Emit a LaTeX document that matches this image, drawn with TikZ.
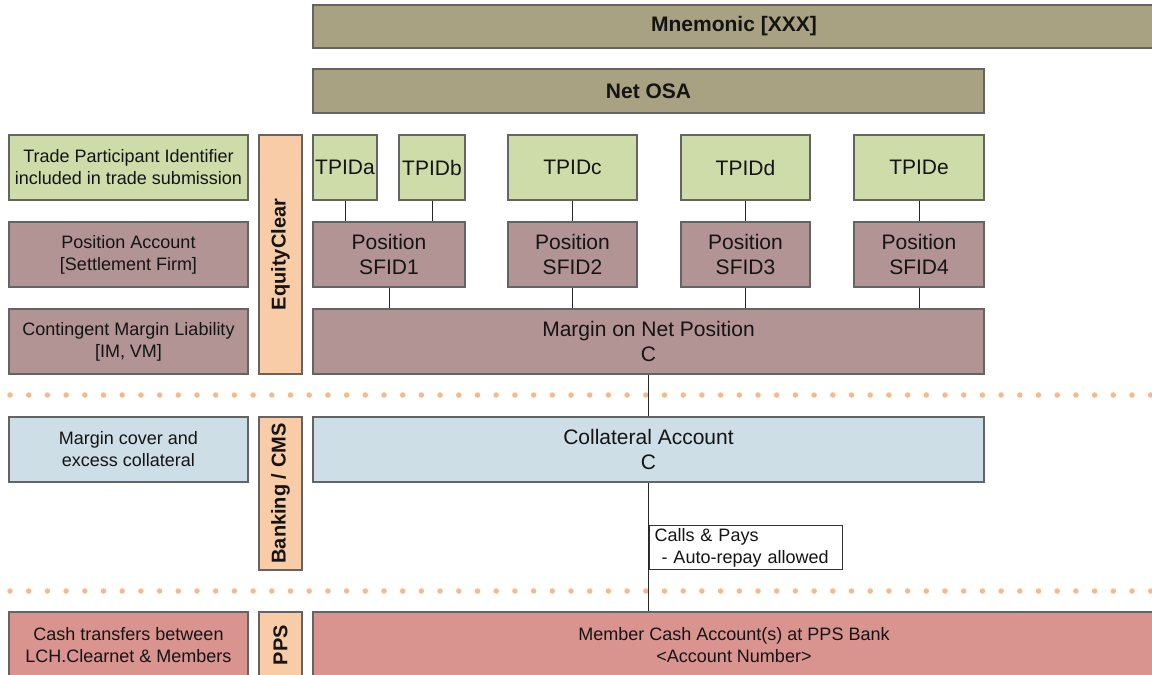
\documentclass[tikz,border=0pt]{standalone}
\usepackage{fontspec}
\setmainfont{Liberation Sans}
\definecolor{edgecol}{RGB}{100,100,100}
\definecolor{greenf}{RGB}{206,220,170}
\definecolor{mauvef}{RGB}{178,148,148}
\definecolor{olivef}{RGB}{168,162,130}
\definecolor{bluef}{RGB}{206,222,230}
\definecolor{orangef}{RGB}{248,204,166}
\definecolor{rosef}{RGB}{217,148,143}
\definecolor{dotcol}{RGB}{247,184,138}
\definecolor{txt}{RGB}{20,20,20}
\newcommand\mybox[7]{%
  \node[#6, minimum width={(#4-#2)*1pt}, minimum height={(#5-#3)*1pt}]
    (#1) at ({(#2+#4)/2},{(#3+#5)/2}) {#7};}
\newcommand\myvbar[7]{%
  \node[#6, rotate=90, minimum width={(#5-#3)*1pt}, minimum height={(#4-#2)*1pt}]
    (#1) at ({(#2+#4)/2},{(#3+#5)/2}) {#7};}
\begin{document}
\begin{tikzpicture}[x=1pt,y=-1pt,
  base/.style={draw=edgecol, line width=1.3pt, inner sep=0pt, align=center, text=txt},
  lab/.style={base, font=\fontsize{18}{22}\selectfont},
  big/.style={base, font=\fontsize{21}{25}\selectfont},
  head/.style={base, fill=olivef, font=\bfseries\fontsize{21}{25}\selectfont},
  vbar/.style={base, fill=orangef, font=\bfseries\fontsize{20}{24}\selectfont},
  conn/.style={draw=black!85, line width=1pt},
  dots/.style={draw=dotcol, line width=5.5pt, line cap=round, dash pattern=on 0pt off 18.7pt},
  callbox/.style={draw=black!80, line width=1pt, fill=white, inner xsep=5pt, inner ysep=0pt,
     text width=183pt, align=left, text=txt, font=\fontsize{18}{22}\selectfont}]
\useasboundingbox (0,0) rectangle (1152,675);
\clip (0,0) rectangle (1152,675);
\fill[white] (0,0) rectangle (1152,675);

% dotted separators
\draw[dots] (10,395) -- (1160,395);
\draw[dots] (10,591) -- (1160,591);

% headers
\mybox{mnem}{313}{5}{1155}{48}{head}{Mnemonic {[XXX]}}
\mybox{netosa}{313}{69}{984}{113}{head}{Net OSA}

% left labels
\mybox{ltpid}{9}{135}{248}{200}{lab, fill=greenf}{Trade Participant Identifier\\included in trade submission}
\mybox{lpos}{9}{222}{248}{287}{lab, fill=mauvef}{Position Account\\{}{[Settlement Firm]}}
\mybox{lcml}{9}{309}{248}{374}{lab, fill=mauvef}{Contingent Margin Liability\\{}{[IM, VM]}}
\mybox{lmc}{9}{417}{248}{482}{lab, fill=bluef}{Margin cover and\\excess collateral}
\mybox{lcash}{9}{612}{248}{678}{lab, fill=rosef}{Cash transfers between\\LCH.Clearnet \& Members}

% vertical bars
\myvbar{veq}{259}{135}{302}{374}{vbar}{EquityClear}
\myvbar{vbank}{259}{417}{302}{570}{vbar}{Banking / CMS}
\myvbar{vpps}{259}{612}{302}{678}{vbar}{PPS}

% TPIDs
\mybox{tpa}{313}{135}{377}{200}{big, fill=greenf}{TPIDa}
\mybox{tpb}{399}{135}{465}{200}{big, fill=greenf}{TPIDb}
\mybox{tpc}{508}{135}{637}{200}{big, fill=greenf}{TPIDc}
\mybox{tpd}{681}{135}{810}{200}{big, fill=greenf}{TPIDd}
\mybox{tpe}{854}{135}{984}{200}{big, fill=greenf}{TPIDe}

% positions
\mybox{sf1}{313}{222}{465}{287}{big, fill=mauvef}{Position\\SFID1}
\mybox{sf2}{508}{222}{637}{287}{big, fill=mauvef}{Position\\SFID2}
\mybox{sf3}{681}{222}{810}{287}{big, fill=mauvef}{Position\\SFID3}
\mybox{sf4}{854}{222}{984}{287}{big, fill=mauvef}{Position\\SFID4}

% margin, collateral, cash
\mybox{margin}{313}{309}{984}{374}{big, fill=mauvef}{Margin on Net Position\\C}
\mybox{coll}{313}{417}{984}{482}{big, fill=bluef}{Collateral Account\\C}
\mybox{cash}{313}{612}{1155}{678}{lab, fill=rosef}{Member Cash Account(s) at PPS Bank\\<Account Number>}

% connectors
\draw[conn] (tpa.south) -- (tpa.south |- sf1.north);
\draw[conn] (tpb.south) -- (tpb.south |- sf1.north);
\draw[conn] (tpc.south) -- (sf2.north);
\draw[conn] (tpd.south) -- (sf3.north);
\draw[conn] (tpe.south) -- (sf4.north);
\draw[conn] (sf1.south) -- (sf1.south |- margin.north);
\draw[conn] (sf2.south) -- (sf2.south |- margin.north);
\draw[conn] (sf3.south) -- (sf3.south |- margin.north);
\draw[conn] (sf4.south) -- (sf4.south |- margin.north);
\draw[conn] (margin.south) -- (coll.north);
\draw[conn] (coll.south) -- (coll.south |- cash.north);

\node[callbox, anchor=north west, minimum height=44pt] (calls) at (649,525)
  {Calls \& Pays\\\hspace*{7pt}- Auto-repay allowed};
\draw[conn] (coll.south |- calls.north) -- (coll.south |- calls.south);
\end{tikzpicture}
\end{document}
